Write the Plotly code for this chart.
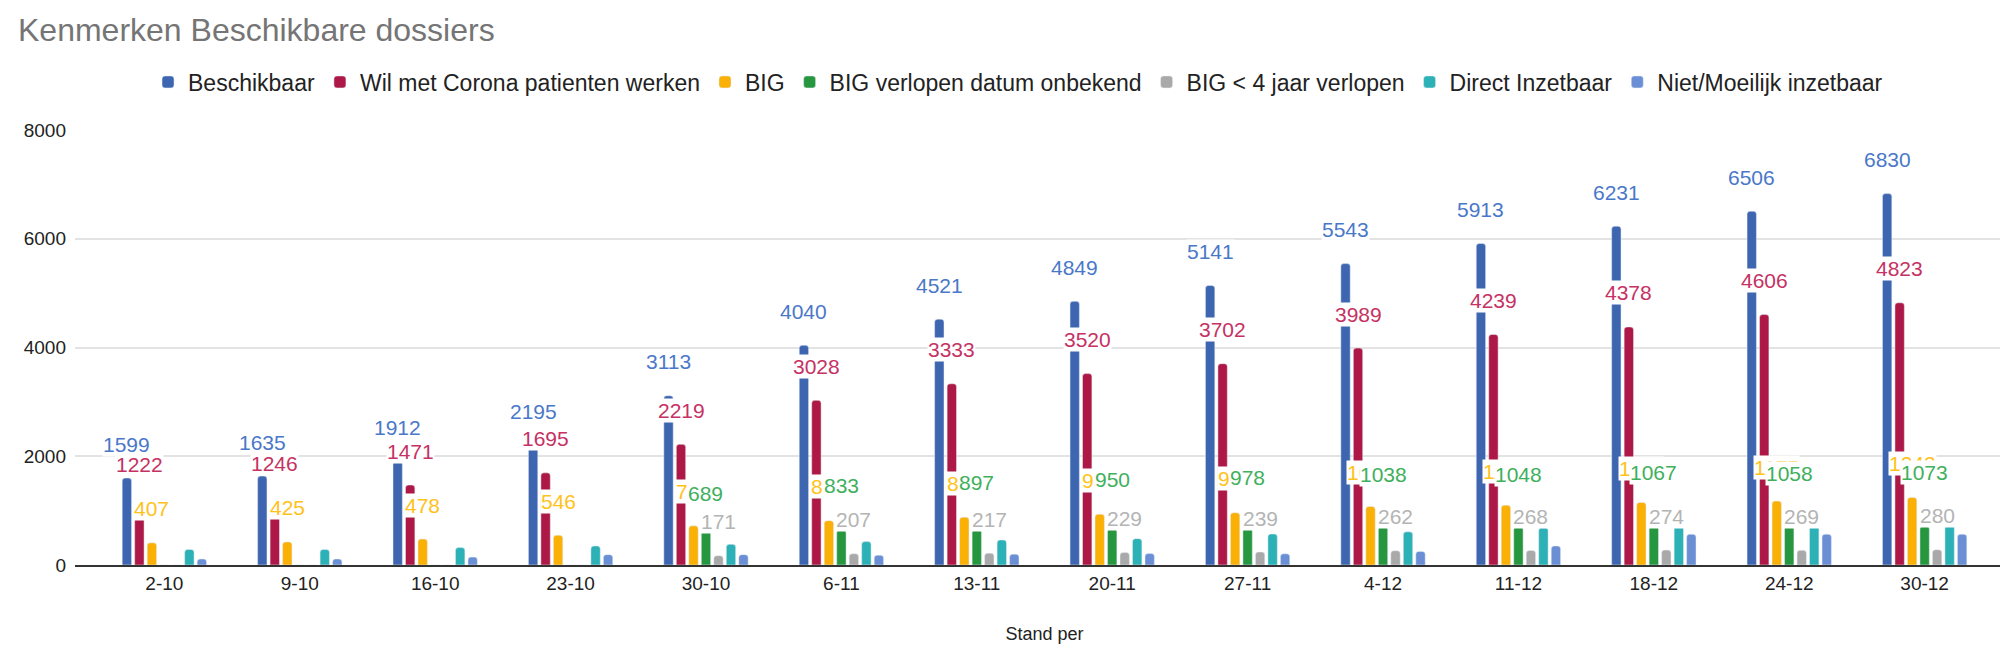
import plotly.graph_objects as go

# weken (stand per)
weken = ['2-10', '9-10', '16-10', '23-10', '30-10', '6-11', '13-11',
         '20-11', '27-11', '4-12', '11-12', '18-12', '24-12', '30-12']

beschikbaar = [1599, 1635, 1912, 2195, 3113, 4040, 4521, 4849, 5141, 5543, 5913, 6231, 6506, 6830]
corona = [1222, 1246, 1471, 1695, 2219, 3028, 3333, 3520, 3702, 3989, 4239, 4378, 4606, 4823]
big = [407, 425, 478, 546, 720, 815, 880, 935, 960, 1075, 1100, 1151, 1175, 1242]
big_onbekend = [0, 0, 0, 0, 640, 645, 655, 665, 680, 705, 705, 715, 715, 715]
big_4jaar = [0, 0, 0, 0, 171, 207, 217, 229, 239, 262, 268, 274, 269, 280]
direct = [285, 285, 320, 350, 380, 430, 460, 485, 570, 610, 685, 730, 750, 750]
niet_moeilijk = [110, 110, 145, 190, 190, 180, 200, 210, 205, 250, 350, 565, 565, 565]

# labels zoals ze in de grafiek staan (groene labels wijken af van de balken)
label_onbekend = [None, None, None, None, 689, 833, 897, 950, 978, 1038, 1048, 1067, 1058, 1073]

series = [
    ('Beschikbaar', beschikbaar, '#3e66b0', '#4a78c9', beschikbaar),
    ('Wil met Corona patienten werken', corona, '#ad1846', '#c53263', corona),
    ('BIG', big, '#fab005', '#ffc21a', big),
    ('BIG verlopen datum onbekend', big_onbekend, '#27973f', '#3fb05c', label_onbekend),
    ('BIG < 4 jaar verlopen', big_4jaar, '#a9a9a9', '#b4b4b4', big_4jaar),
    ('Direct Inzetbaar', direct, '#2cb1b6', None, None),
    ('Niet/Moeilijk inzetbaar', niet_moeilijk, '#6a8fd4', None, None),
]

BARGAP = 0.354
n = len(series)
slot = (1 - BARGAP) / n

fig = go.Figure()
annotations = []
for k, (name, vals, color, lcolor, labels) in enumerate(series):
    fig.add_trace(go.Bar(x=weken, y=vals, name=name, marker_color=color))
    if labels is None:
        continue
    for i, lab in enumerate(labels):
        if not lab:
            continue
        annotations.append(dict(
            x=i + (k - (n - 1) / 2) * slot, y=lab, xref='x', yref='y',
            text=str(lab), showarrow=False, yshift=34, yanchor='middle',
            font=dict(family='Liberation Sans', size=21, color=lcolor),
            bgcolor='white', borderpad=0))

fig.update_layout(
    width=2008, height=658,
    margin=dict(l=67, r=2, t=122, b=101),
    paper_bgcolor='white', plot_bgcolor='white',
    barmode='group', bargap=BARGAP, bargroupgap=0.25, barcornerradius=3,
    font=dict(family='Liberation Sans', color='#222'),
    title=dict(text='Kenmerken Beschikbare dossiers', x=10 / 2008, xanchor='left',
               y=1 - 22 / 658, yanchor='middle',
               font=dict(size=32, color='#757575')),
    legend=dict(orientation='h', xref='container', yref='container',
                x=0.503, xanchor='center', y=1 - 74 / 658, yanchor='middle',
                font=dict(size=23, color='#222'), itemwidth=30),
    annotations=annotations,
    xaxis=dict(type='category', range=[-0.66, 13.66], tickfont=dict(size=19, color='#222'),
               showline=True, linecolor='#333', linewidth=2, ticks='',
               title=dict(text='Stand per', font=dict(size=18, color='#222'), standoff=35)),
    yaxis=dict(range=[0, 8000], tickvals=[0, 2000, 4000, 6000, 8000],
               gridcolor='#e3e3e3', gridwidth=2, zeroline=False,
               tickfont=dict(size=19, color='#222'), ticklabelstandoff=8),
)

fig.write_html('out.html')
